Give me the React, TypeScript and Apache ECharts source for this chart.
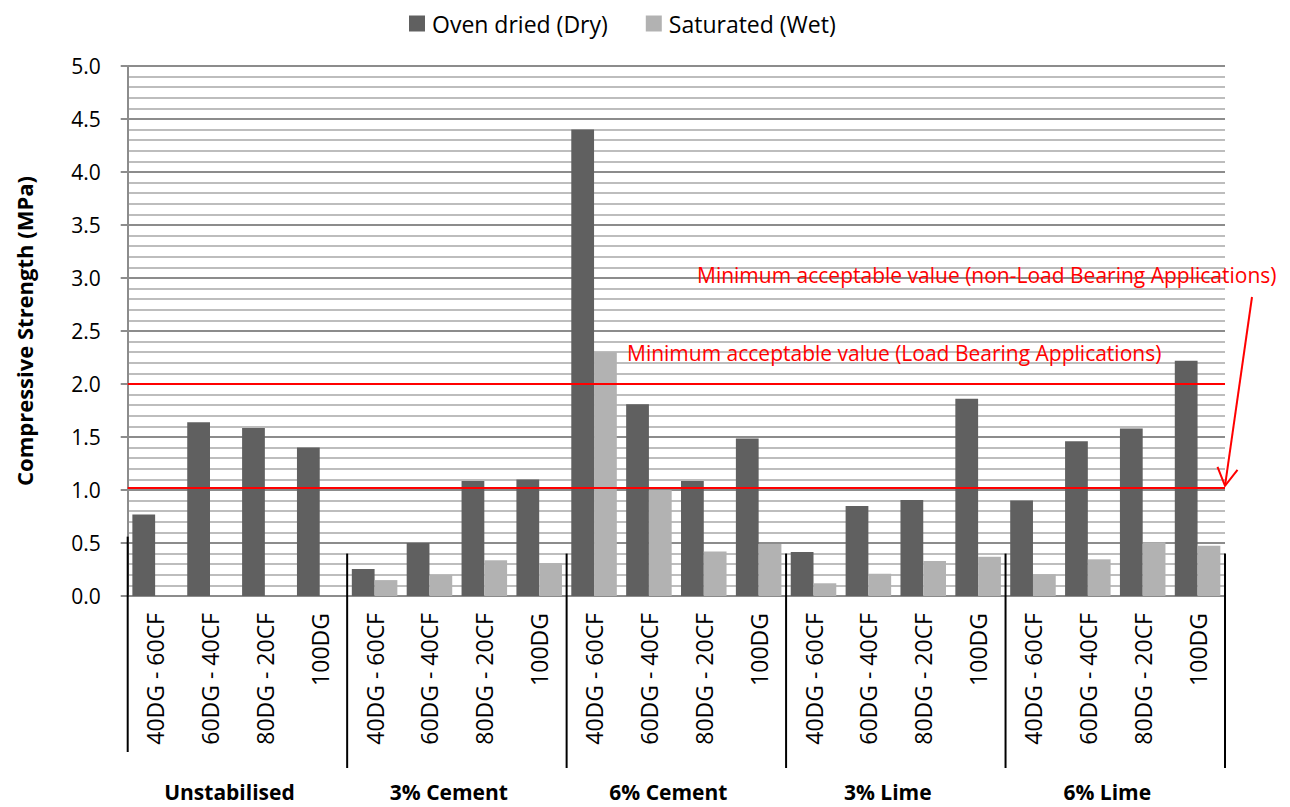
import React, { useEffect, useRef } from "react";
import * as echarts from "echarts";

const groups = ["Unstabilised", "3% Cement", "6% Cement", "3% Lime", "6% Lime"];
const mixes = ["40DG - 60CF", "60DG - 40CF", "80DG - 20CF", "100DG"];
const categories: string[] = [];
groups.forEach((g, gi) => mixes.forEach((m) => categories.push(gi + "|" + m)));

const dryValues = [0.77, 1.64, 1.585, 1.4, 0.255, 0.5, 1.085, 1.1, 4.4, 1.81, 1.085, 1.485, 0.415, 0.85, 0.905, 1.86, 0.9, 1.46, 1.58, 2.22];
const wetValues = [null, null, null, null, 0.15, 0.2, 0.337, 0.31, 2.3, 1.0, 0.42, 0.49, 0.12, 0.21, 0.33, 0.37, 0.205, 0.346, 0.507, 0.475];
const limitLoadBearing = 2.0;
const limitNonLoadBearing = 1.02;
const labelLoad = "Minimum acceptable value (Load Bearing Applications)";
const labelNonLoad = "Minimum acceptable value (non-Load Bearing Applications)";

const FONT = "Open Sans";

export default function App() {
  const ref = useRef<HTMLDivElement>(null);
  useEffect(() => {
    if (!ref.current) return;
    const chart = echarts.init(ref.current, null, { renderer: "svg" });
    const option: any = {
      animation: false,
      backgroundColor: "#ffffff",
      textStyle: { fontFamily: FONT },
      legend: {
        top: 7,
        left: 404,
        itemWidth: 16,
        itemHeight: 16,
        itemGap: 38,
        icon: "rect",
        textStyle: { fontSize: 23, color: "#000", fontFamily: FONT, padding: [0, 0, 0, 2] },
        data: ["Oven dried (Dry)", "Saturated (Wet)"],
      },
      grid: { left: 127.7, right: 65, top: 66, bottom: 211, containLabel: false },
      xAxis: {
        type: "category",
        data: categories,
        axisLine: { show: true, lineStyle: { color: "#8c8c8c", width: 2 } },
        axisTick: { show: false },
        axisLabel: {
          rotate: 90,
          margin: 17,
          fontSize: 23,
          color: "#000",
          fontFamily: FONT,
          interval: 0,
          formatter: (v: string) => v.split("|")[1],
        },
      },
      yAxis: {
        type: "value",
        min: 0,
        max: 5,
        interval: 0.5,
        name: "Compressive Strength (MPa)",
        nameLocation: "middle",
        nameGap: 93,
        nameTextStyle: { fontSize: 22, fontWeight: "bold", color: "#000", fontFamily: FONT },
        axisLine: { show: true, lineStyle: { color: "#8c8c8c", width: 2 } },
        axisTick: { show: true, length: 7, lineStyle: { color: "#8c8c8c", width: 2 } },
        axisLabel: {
          margin: 27,
          fontSize: 21,
          color: "#000",
          fontFamily: FONT,
          formatter: (v: number) => v.toFixed(1),
        },
        splitLine: { show: true, lineStyle: { color: "#8c8c8c", width: 2 } },
        minorTick: { show: false, splitNumber: 5 },
        minorSplitLine: { show: true, lineStyle: { color: "#bdbdbd", width: 2 } },
      },
      series: [
        {
          name: "Oven dried (Dry)",
          type: "bar",
          data: dryValues,
          barGap: "0%",
          barCategoryGap: "17%",
          itemStyle: { color: "#606060" },
          markLine: {
            silent: true,
            symbol: "none",
            label: { show: false },
            lineStyle: { color: "#ff0000", width: 2, type: "solid" },
            data: [{ yAxis: limitLoadBearing }, { yAxis: limitNonLoadBearing }],
          },
        },
        {
          name: "Saturated (Wet)",
          type: "bar",
          data: wetValues,
          itemStyle: { color: "#b2b2b2" },
        },
      ],
    };
    chart.setOption(option);

    const c0 = chart.convertToPixel({ xAxisIndex: 0 }, categories[0]) as number;
    const c1 = chart.convertToPixel({ xAxisIndex: 0 }, categories[1]) as number;
    const cw = c1 - c0;
    const boundary = (i: number) => c0 - cw / 2 + i * cw;
    const yAt = (v: number) => chart.convertToPixel({ yAxisIndex: 0 }, v) as number;
    const graphics: any[] = [];
    for (let g = 0; g <= groups.length; g++) {
      const x = boundary(g * mixes.length);
      const top = g === 0 ? yAt(0.56) : yAt(0.4);
      const bottom = g === 0 ? 752 : 768;
      graphics.push({
        type: "line",
        shape: { x1: x, y1: top, x2: x, y2: bottom },
        style: { stroke: "#000", lineWidth: 2 },
        z: 10,
      });
    }
    groups.forEach((name, g) => {
      const cx = (boundary(g * mixes.length) + boundary((g + 1) * mixes.length)) / 2 - 8;
      graphics.push({
        type: "text",
        x: cx,
        y: 792,
        style: {
          text: name,
          fontSize: 21,
          fontWeight: "bold",
          fontFamily: FONT,
          fill: "#000",
          align: "center",
          verticalAlign: "middle",
        },
      });
    });
    const yLoad = yAt(limitLoadBearing);
    const yNon = yAt(limitNonLoadBearing);
    graphics.push({
      type: "text",
      x: 627,
      y: yLoad - 31,
      style: { text: labelLoad, fontSize: 21, fontFamily: FONT, fill: "#ff0000", align: "left", verticalAlign: "middle" },
      z: 20,
    });
    graphics.push({
      type: "text",
      x: 697,
      y: 275,
      style: { text: labelNonLoad, fontSize: 21, fontFamily: FONT, fill: "#ff0000", align: "left", verticalAlign: "middle" },
      z: 20,
    });
    const ax = 1225;
    const ay = yNon - 2;
    graphics.push({
      type: "line",
      shape: { x1: 1252, y1: 297, x2: ax, y2: ay },
      style: { stroke: "#ff0000", lineWidth: 2 },
      z: 20,
    });
    graphics.push({
      type: "polyline",
      shape: { points: [[1217.5, ay - 19], [ax, ay], [1237.5, ay - 16]] },
      style: { stroke: "#ff0000", lineWidth: 2, fill: "none" },
      z: 20,
    });
    chart.setOption({ graphic: graphics });

    return () => chart.dispose();
  }, []);
  return (
    <div
      ref={ref}
      style={{ position: "fixed", left: 0, top: 0, width: 1290, height: 807, background: "#fff" }}
    />
  );
}
